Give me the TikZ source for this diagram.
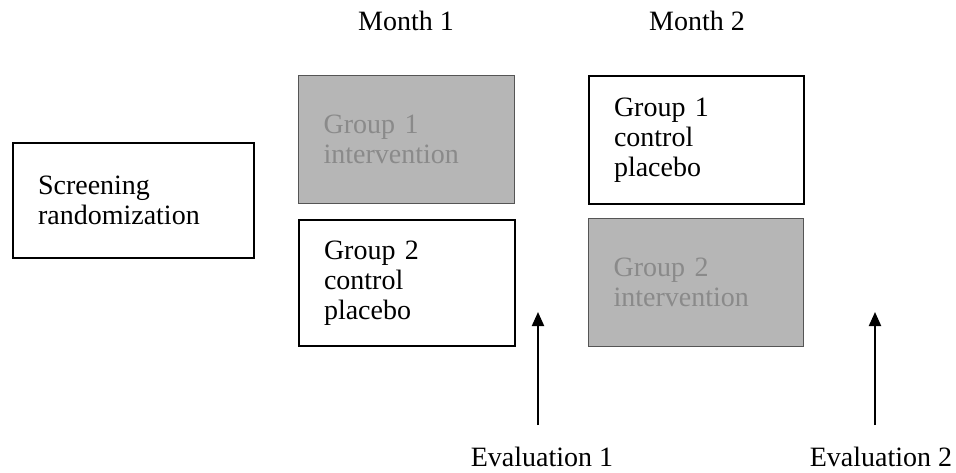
\documentclass[tikz,border=0pt]{standalone}
\usepackage{fontspec}
\setmainfont{Liberation Serif}
\usetikzlibrary{arrows.meta}
\definecolor{boxgray}{HTML}{B6B6B6}
\definecolor{boxgraytext}{HTML}{8A8A8A}
\definecolor{boxgrayline}{HTML}{555555}
\tikzset{
  txt/.style={font=\fontsize{28}{30}\selectfont},
  plainbox/.style={txt, draw=black, line width=2pt, fill=white,
    align=left, inner xsep=25pt, inner ysep=0pt, anchor=north west,
    minimum height=128pt},
  graybox/.style={plainbox, draw=boxgrayline, line width=1.3pt,
    fill=boxgray, text=boxgraytext},
  evalarrow/.style={line width=2pt, -{Triangle[length=14pt,width=12pt]}},
}
\begin{document}
\begin{tikzpicture}[x=1pt,y=-1pt]
  \useasboundingbox (0,0) rectangle (956,472);

  % column headings
  \node[txt, anchor=base] (m1) at (406,30) {Month 1};
  \node[txt, anchor=base] (m2) at (697,30) {Month 2};

  % screening box
  \node[plainbox, text width=191pt, minimum height=115pt]
        (screen) at (12,142) {Screening\\randomization};

  % month 1 boxes
  \node[graybox, text width=166pt] (g1int) at (298,75) {Group 1\\intervention};
  \node[plainbox, text width=166pt, minimum height=126pt] (g2ctl) at (298,219)
        {Group 2\\control\\placebo};

  % month 2 boxes
  \node[plainbox, text width=165pt] (g1ctl) at (588,75) {Group 1\\control\\placebo};
  \node[graybox, text width=165pt] (g2int) at (588,218) {Group 2\\intervention};

  % evaluation points
  \node[txt, anchor=base] (ev1) at (542,466) {Evaluation 1};
  \node[txt, anchor=base] (ev2) at (881,466) {Evaluation 2};
  \coordinate (ev1a) at (538,425);
  \coordinate (ev1b) at (538,312);
  \coordinate (ev2a) at (875,425);
  \coordinate (ev2b) at (875,312);
  \draw[evalarrow] (ev1a) -- (ev1b);
  \draw[evalarrow] (ev2a) -- (ev2b);
\end{tikzpicture}
\end{document}
